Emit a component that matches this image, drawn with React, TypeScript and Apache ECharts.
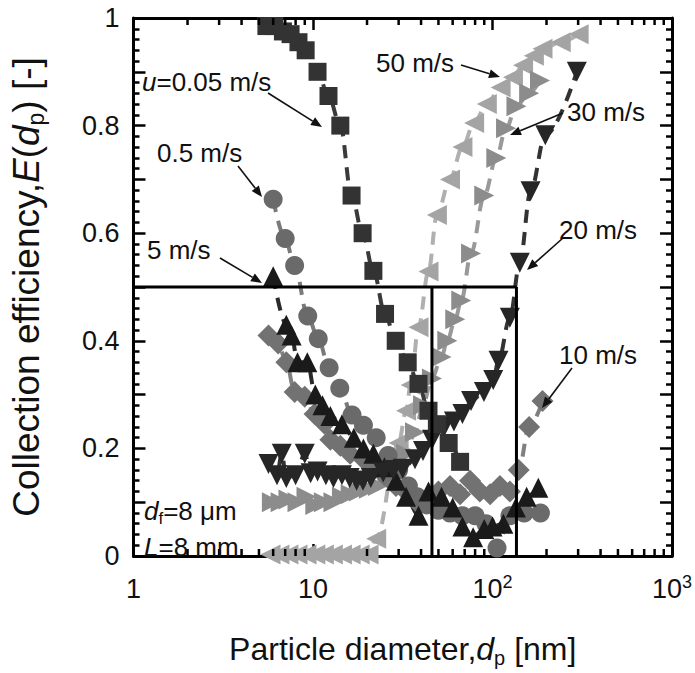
import React, { useEffect, useRef } from 'react';
import * as echarts from 'echarts';

// ---- data (x: particle diameter nm, y: collection efficiency) ----
const u005: number[][] = [[5.5,0.985],[6.1,0.985],[6.8,0.975],[7.5,0.97],[8.3,0.955],[9.1,0.94],[10.6,0.9],[12.2,0.855],[14.2,0.8],[16.4,0.67],[18.9,0.6],[21.7,0.53],[25.2,0.45],[28.9,0.4],[33.7,0.36],[38.7,0.32],[44,0.27],[49,0.245],[57,0.21],[66,0.175]];
const u05: number[][] = [[6.0,0.663],[7.0,0.59],[7.9,0.54],[9.35,0.446],[10.7,0.404],[12.3,0.35],[14.1,0.312],[16.5,0.262],[19.1,0.243],[22.5,0.22],[26.2,0.187],[30,0.16],[34,0.13],[38,0.11],[43,0.095],[50,0.085],[58,0.08],[68,0.075],[80,0.075],[92,0.06],[106,0.015],[125,0.075],[150,0.08],[185,0.08]];
const u5: number[][] = [[6.0,0.52],[7.1,0.43],[7.6,0.41],[8.2,0.36],[9.3,0.36],[10.3,0.3],[11.3,0.28],[12.5,0.26],[14.5,0.245],[16.9,0.22],[19.1,0.2],[21.7,0.19],[25,0.165],[29,0.14],[33,0.11],[38.7,0.075],[44,0.12],[52,0.11],[60,0.09],[68,0.055],[78,0.035],[90,0.05],[100,0.055],[115,0.06],[135,0.09],[155,0.11],[180,0.127]];
const u10: number[][] = [[5.65,0.41],[6.4,0.395],[7.1,0.36],[7.9,0.305],[9.0,0.296],[10.2,0.264],[11.6,0.246],[12.5,0.216],[14.2,0.205],[16.1,0.19],[19.1,0.18],[21.7,0.17],[25,0.15],[29,0.13],[33,0.12],[38,0.1],[44,0.1],[50,0.12],[58,0.13],[66,0.115],[75,0.14],[85,0.12],[97,0.115],[110,0.13],[125,0.12],[140,0.16],[160,0.24],[190,0.288]];
const u20: number[][] = [[5.65,0.171],[6.3,0.15],[6.7,0.19],[7.1,0.145],[8.0,0.15],[9.0,0.19],[9.7,0.154],[10.6,0.157],[11.8,0.15],[13,0.145],[14.5,0.15],[16,0.145],[17.5,0.14],[19,0.14],[21,0.145],[24.6,0.155],[28,0.16],[31.6,0.162],[37,0.18],[41,0.195],[46,0.216],[54,0.241],[61,0.25],[68,0.264],[76,0.288],[89.6,0.305],[101,0.327],[108,0.363],[125,0.443],[142,0.545],[163,0.678],[197,0.782],[295,0.9]];
const u30: number[][] = [[5.9,0.1],[6.6,0.1],[7.3,0.105],[8.2,0.1],[9.2,0.11],[10.3,0.095],[11.5,0.1],[13,0.1],[14.5,0.11],[16.2,0.115],[18,0.12],[20.5,0.125],[23,0.13],[26,0.14],[29,0.16],[33,0.19],[37,0.23],[41,0.28],[46,0.33],[52,0.37],[56,0.4],[62,0.44],[67,0.475],[76,0.5625],[90,0.67],[105,0.74],[119,0.795],[136,0.836],[160,0.86],[184,0.884]];
const u50: number[][] = [[5.8,0.003],[6.5,0.003],[7.3,0.003],[8.2,0.003],[9.2,0.003],[10.3,0.003],[11.5,0.003],[12.9,0.003],[14.5,0.003],[16.2,0.003],[18.2,0.003],[20.4,0.003],[22.5,0.032],[30,0.21],[33,0.27],[35,0.318],[38.7,0.425],[44,0.529],[49,0.634],[58,0.7],[68,0.76],[79,0.805],[93,0.84],[111,0.871],[130,0.89],[148,0.912],[170,0.93],[190,0.943],[240,0.955],[302,0.97]];

const minorTicksX: number[] = [2,3,4,5,6,7,8,9,20,30,40,50,60,70,80,90,200,300,400,500,600,700,800,900];
const xTickLabels: Record<number, string> = { 0: '1', 1: '10', 2: '10{sup|2}', 3: '10{sup|3}' };
const boxSegments: number[][][] = [[[1,0.5],[136,0.5]],[[136,0.5],[136,0]],[[46,0.5],[46,0]]];

const FONT = '"Liberation Sans", Arial, Helvetica, sans-serif';

const seriesDefs = [
  { name: '50 m/s', data: u50, symbol: 'path://M9,0L0,5L9,10Z', size: 20, color: '#a4a4a4', line: '#b0b0b0' },
  { name: '30 m/s', data: u30, symbol: 'path://M0,0L9,5L0,10Z', size: 20, color: '#8c8c8c', line: '#999999' },
  { name: '10 m/s', data: u10, symbol: 'diamond', size: 22, color: '#727272', line: '#808080' },
  { name: '0.5 m/s', data: u05, symbol: 'circle', size: 19, color: '#6a6a6a', line: '#7a7a7a' },
  { name: '5 m/s', data: u5, symbol: 'triangle', size: 20, color: '#1a1a1a', line: '#2a2a2a' },
  { name: '20 m/s', data: u20, symbol: 'path://M0,0L10,0L5,9Z', size: 20, color: '#262626', line: '#333333' },
  { name: 'u=0.05 m/s', data: u005, symbol: 'rect', size: 18, color: '#333333', line: '#3a3a3a' },
];

function arrow(x1: number, y1: number, x2: number, y2: number) {
  const dx = x2 - x1, dy = y2 - y1;
  const len = Math.sqrt(dx * dx + dy * dy);
  const ux = dx / len, uy = dy / len;
  const hl = 11, hw = 4.5;
  const bx = x2 - ux * hl, by = y2 - uy * hl;
  return [
    { type: 'line', shape: { x1, y1, x2: bx, y2: by }, style: { stroke: '#111', lineWidth: 1.6 }, z: 100 },
    { type: 'polygon', shape: { points: [[x2, y2], [bx - uy * hw, by + ux * hw], [bx + uy * hw, by - ux * hw]] }, style: { fill: '#111' }, z: 100 },
  ];
}

const ANN_FS = 26;
function label(x: number, y: number, text: string) {
  return {
    type: 'text', x, y, z: 100,
    style: {
      text, fill: '#111', fontSize: ANN_FS, fontFamily: FONT, verticalAlign: 'middle', lineHeight: 32,
      rich: {
        i: { fontStyle: 'italic', fontSize: ANN_FS, fontFamily: FONT, lineHeight: 32, fill: '#111' },
        sub: { fontSize: 17, fontFamily: FONT, lineHeight: 15, verticalAlign: 'bottom', fill: '#111' },
      },
    },
  };
}

export default function App() {
  const ref = useRef<HTMLDivElement>(null);
  useEffect(() => {
    if (!ref.current) return;
    const chart = echarts.init(ref.current, null, { renderer: 'svg' });
    const axisCommon = {
      axisLine: { show: true, onZero: false, lineStyle: { color: '#000', width: 3 } },
      axisTick: { show: true, inside: true, length: 12, lineStyle: { color: '#000', width: 2.5 } },
      splitLine: { show: false },
    };
    const series: any[] = [];
    seriesDefs.forEach((d) => {
      series.push({
        type: 'line', name: d.name + ' fit', data: d.data, smooth: 0.35, smoothMonotone: 'x', symbol: 'none', silent: true,
        lineStyle: { color: d.line, width: 4, type: [13, 9] }, z: 2,
      });
    });
    seriesDefs.forEach((d, i) => {
      series.push({
        type: 'scatter', name: d.name, data: d.data, symbol: d.symbol, symbolSize: d.size,
        itemStyle: { color: d.color, opacity: 1 }, z: 3 + i,
      });
    });
    boxSegments.forEach((seg) => {
      series.push({ type: 'line', data: seg, symbol: 'none', lineStyle: { color: '#000', width: 3 }, z: 20, silent: true });
    });
    series.push({
      type: 'custom', data: minorTicksX.map((v) => [v, 0]), clip: false, z: 30, silent: true,
      renderItem: (params: any, api: any) => {
        const x = api.value(0);
        const b = api.coord([x, 0]);
        const t = api.coord([x, 1]);
        return {
          type: 'group',
          children: [
            { type: 'line', shape: { x1: b[0], y1: b[1], x2: b[0], y2: b[1] - 7 }, style: { stroke: '#000', lineWidth: 2.5 } },
            { type: 'line', shape: { x1: t[0], y1: t[1], x2: t[0], y2: t[1] + 7 }, style: { stroke: '#000', lineWidth: 2.5 } },
          ],
        };
      },
    });

    const graphic: any[] = [
      label(142, 82, '{i|u}=0.05 m/s'),
      label(157, 153, '0.5 m/s'),
      label(147, 250, '5 m/s'),
      label(376, 63, '50 m/s'),
      label(567, 112, '30 m/s'),
      label(559, 230, '20 m/s'),
      label(559, 355, '10 m/s'),
      label(144, 511, '{i|d}{sub|f}=8 μm'),
      label(144, 547, '{i|L}=8 mm'),
      ...arrow(268, 93, 322, 127),
      ...arrow(238, 166, 262, 197),
      ...arrow(220, 258, 262, 283),
      ...arrow(461, 65, 500, 77),
      ...arrow(563, 113, 510, 135),
      ...arrow(563, 238, 527, 270),
      ...arrow(572, 368, 542, 408),
    ];

    chart.setOption({
      animation: false,
      backgroundColor: '#ffffff',
      grid: { left: 122, right: 23, top: 18, bottom: 95, containLabel: false },
      xAxis: [
        {
          type: 'log', logBase: 10, min: 1, max: 1000, position: 'bottom', ...axisCommon,
          name: 'Particle diameter,{i|d}{sub|p} [nm]', nameLocation: 'middle', nameGap: 74,
          nameTextStyle: {
            color: '#111', fontSize: 32, fontFamily: FONT, lineHeight: 38,
            rich: {
              i: { fontStyle: 'italic', fontSize: 32, fontFamily: FONT, lineHeight: 38, color: '#111' },
              sub: { fontSize: 20, fontFamily: FONT, lineHeight: 18, verticalAlign: 'bottom', color: '#111' },
            },
          },
          axisLabel: {
            show: true, margin: 17, color: '#111', fontSize: 27, fontFamily: FONT, lineHeight: 32,
            formatter: (v: number) => xTickLabels[Math.round(Math.log10(v))] ?? '',
            rich: { sup: { fontSize: 18, fontFamily: FONT, lineHeight: 16, verticalAlign: 'top', color: '#111' } },
          },
        },
        {
          type: 'log', logBase: 10, min: 1, max: 1000, position: 'top', ...axisCommon,
          axisLabel: { show: false },
        },
      ],
      yAxis: [
        {
          type: 'value', min: 0, max: 1, interval: 0.1, position: 'left', ...axisCommon,
          minorTick: { show: true, splitNumber: 5, length: 6, lineStyle: { color: '#000', width: 2.5 } },
          minorSplitLine: { show: false },
          axisLabel: {
            show: true, margin: 14, color: '#111', fontSize: 27, fontFamily: FONT,
            formatter: (v: number) => (Math.round(v * 10) % 2 === 0 ? String(Math.round(v * 10) / 10) : ''),
          },
          name: '{n|Collection efficiency,}{i|E}{n|(}{i|d}{sub|p}{n|) [-]}', nameLocation: 'middle', nameGap: 86,
          nameTextStyle: {
            color: '#111', fontSize: 37, fontFamily: FONT,
            rich: {
              n: { fontSize: 37, fontFamily: FONT, lineHeight: 42, color: '#111' },
              i: { fontStyle: 'italic', fontSize: 37, fontFamily: FONT, lineHeight: 42, color: '#111' },
              sub: { fontSize: 23, fontFamily: FONT, lineHeight: 20, verticalAlign: 'bottom', color: '#111' },
            },
          },
        },
        {
          type: 'value', min: 0, max: 1, interval: 0.1, position: 'right', ...axisCommon,
          minorTick: { show: true, splitNumber: 5, length: 6, lineStyle: { color: '#000', width: 2.5 } },
          axisLabel: { show: false },
        },
      ],
      series,
      graphic,
    });
    return () => chart.dispose();
  }, []);
  return <div ref={ref} style={{ position: 'fixed', left: 0, top: 0, width: 695, height: 673, background: '#fff' }} />;
}
